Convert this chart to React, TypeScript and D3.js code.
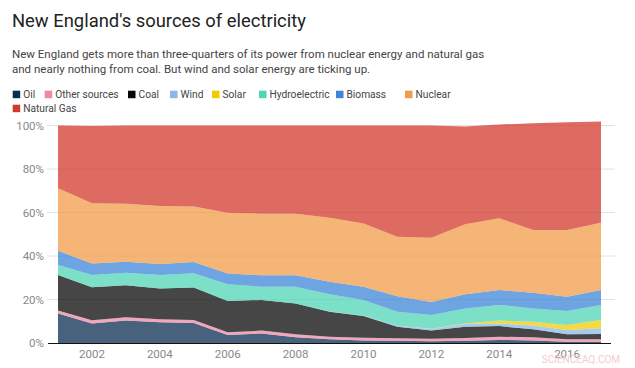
import React, { useEffect, useRef } from 'react';
import * as d3 from 'd3';

const years = [2001, 2002, 2003, 2004, 2005, 2006, 2007, 2008, 2009, 2010, 2011, 2012, 2013, 2014, 2015, 2016, 2017];

// share of generation, percent
const oil = [13.6, 9.0, 10.3, 9.5, 9.2, 3.7, 4.4, 2.6, 1.7, 1.2, 1.0, 0.8, 1.0, 1.4, 1.2, 0.6, 0.6];
const otherSources = [1.3, 1.5, 1.5, 1.4, 1.4, 1.2, 1.3, 1.4, 1.2, 1.2, 1.2, 1.2, 1.3, 1.5, 1.4, 1.1, 1.1];
const coal = [16.4, 15.1, 14.7, 14.2, 14.9, 14.4, 14.1, 14.2, 11.5, 10.0, 5.3, 3.7, 5.2, 4.9, 3.7, 2.3, 2.4];
const wind = [0, 0, 0, 0, 0, 0, 0, 0, 0.1, 0.2, 0.4, 0.7, 1.2, 1.2, 1.8, 2.0, 2.7];
const solar = [0, 0, 0, 0, 0, 0, 0, 0, 0, 0, 0, 0.1, 0.3, 1.3, 1.7, 2.3, 3.8];
const hydro = [4.6, 5.7, 5.8, 6.2, 6.6, 7.7, 6.1, 7.7, 7.9, 7.2, 6.5, 6.4, 6.9, 7.2, 6.1, 6.4, 6.9];
const biomass = [6.5, 5.3, 5.1, 5.0, 5.1, 5.0, 5.2, 5.2, 5.8, 6.1, 7.1, 5.9, 6.5, 6.9, 7.2, 6.6, 6.9];
const nuclear = [28.7, 27.6, 26.6, 26.7, 25.6, 27.9, 28.3, 28.3, 29.4, 29.1, 27.4, 29.6, 32.2, 32.9, 28.9, 30.7, 30.9];
const naturalGas = [28.9, 35.6, 36.0, 37.0, 37.2, 40.1, 40.6, 40.6, 42.4, 45.0, 51.1, 51.6, 44.9, 43.2, 49.0, 49.5, 46.5];

const seriesNames = ['Oil', 'Other sources', 'Coal', 'Wind', 'Solar', 'Hydroelectric', 'Biomass', 'Nuclear', 'Natural Gas'];
const seriesValues = [oil, otherSources, coal, wind, solar, hydro, biomass, nuclear, naturalGas];
const seriesColors = ['#0b2d52', '#ee88a4', '#080808', '#8ab8ea', '#f2cc00', '#4fd6b4', '#3f86d8', '#f09c4a', '#d33a2e'];

const yTicks = [0, 20, 40, 60, 80, 100];
const xTicks = [2002, 2004, 2006, 2008, 2010, 2012, 2014, 2016];

const W = 635;
const H = 368;

function drawChart(node: SVGSVGElement) {
  const svg = d3.select(node);
  svg.selectAll('*').remove();
  const font = 'Roboto, sans-serif';

  // title + subtitle
  svg.append('text')
    .attr('x', 12).attr('y', 27)
    .attr('font-family', font).attr('font-size', 18.4)
    .attr('fill', '#222')
    .text("New England's sources of electricity");

  const sub = svg.append('text')
    .attr('font-family', font).attr('font-size', 11.5)
    .attr('fill', '#444');
  sub.append('tspan').attr('x', 12).attr('y', 57.5)
    .text('New England gets more than three-quarters of its power from nuclear energy and natural gas');
  sub.append('tspan').attr('x', 12).attr('y', 72.5)
    .text('and nearly nothing from coal. But wind and solar energy are ticking up.');

  // legend
  const legendX = [12.7, 44.7, 128, 170, 212, 259, 336, 405, 12.7];
  const legendY = [94.5, 94.5, 94.5, 94.5, 94.5, 94.5, 94.5, 94.5, 108.5];
  const legend = svg.append('g');
  seriesNames.forEach((name, i) => {
    legend.append('rect')
      .attr('x', legendX[i]).attr('y', legendY[i] - 3.8)
      .attr('width', 7.5).attr('height', 7.5)
      .attr('fill', seriesColors[i]);
    legend.append('text')
      .attr('x', legendX[i] + 10.5).attr('y', legendY[i] + 3.8)
      .attr('font-family', font).attr('font-size', 10.2)
      .attr('fill', '#444')
      .text(name);
  });

  const x = d3.scaleLinear().domain([2001, 2017]).range([58, 601]);
  const y = d3.scaleLinear().domain([0, 100]).range([343, 125.5]);

  // gridlines (under the semi-transparent areas)
  const grid = svg.append('g');
  yTicks.forEach(t => {
    if (t === 0) return;
    grid.append('line')
      .attr('x1', 47).attr('x2', 615)
      .attr('y1', y(t)).attr('y2', y(t))
      .attr('stroke', '#e2e2e2').attr('stroke-width', 1);
  });

  const rows = years.map((yr, i) => {
    const r: Record<string, number> = { year: yr };
    seriesNames.forEach((n, j) => { r[n] = seriesValues[j][i]; });
    return r;
  });

  const stacked = d3.stack<Record<string, number>>().keys(seriesNames)(rows);

  const area = d3.area<any>()
    .x(d => x(d.data.year))
    .y0(d => y(d[0]))
    .y1(d => y(d[1]))
    .curve(d3.curveLinear);

  svg.append('g').selectAll('path')
    .data(stacked)
    .enter().append('path')
    .attr('d', area)
    .attr('fill', (d, i) => seriesColors[i])
    .attr('fill-opacity', 0.75);

  // y axis labels
  const yAxis = svg.append('g');
  yTicks.forEach(t => {
    yAxis.append('text')
      .attr('x', 44).attr('y', y(t) + 4)
      .attr('text-anchor', 'end')
      .attr('font-family', font).attr('font-size', 11.5)
      .attr('fill', '#888')
      .text(`${t}%`);
  });

  // x axis baseline and labels
  svg.append('line')
    .attr('x1', 48).attr('x2', 611)
    .attr('y1', y(0) + 0.5).attr('y2', y(0) + 0.5)
    .attr('stroke', '#111').attr('stroke-width', 1.2);

  const xAxis = svg.append('g');
  xTicks.forEach(t => {
    xAxis.append('text')
      .attr('x', x(t)).attr('y', 358)
      .attr('text-anchor', 'middle')
      .attr('font-family', font).attr('font-size', 11.5)
      .attr('fill', '#888')
      .text(String(t));
  });

  // watermark (faint, as in the source image)
  svg.append('text')
    .attr('x', 620).attr('y', 363)
    .attr('text-anchor', 'end')
    .attr('font-family', font).attr('font-size', 10)
    .attr('fill', '#f4cccc')
    .text('SCIENCEAQ.COM');
}

export default function App() {
  const ref = useRef<SVGSVGElement>(null);
  useEffect(() => {
    if (ref.current) drawChart(ref.current);
  }, []);
  return (
    <div style={{ position: 'absolute', left: 0, top: 0, background: '#fff' }}>
      <svg ref={ref} width={W} height={H} style={{ display: 'block' }} />
    </div>
  );
}
